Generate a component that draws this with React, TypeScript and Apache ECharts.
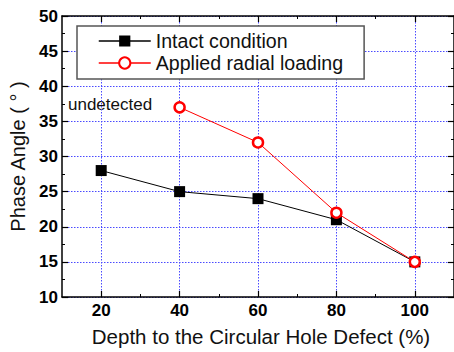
import React, { useEffect, useRef } from "react";
import * as echarts from "echarts";

const depthValues = [20, 40, 60, 80, 100];
const intactValues = [28, 25, 24, 21, 15];
const radialValues: (number | null)[] = [null, 37, 32, 22, 15];
const xMajorTicks = [20, 40, 60, 80, 100];
const xMinorTicks = [30, 50, 70, 90];
const seriesNames = ["Intact condition", "Applied radial loading"];
const annotationText = "undetected";
const xTitle = "Depth to the Circular Hole Defect (%)";
const yTitle = "Phase Angle ( \u00b0 )";

const FONT = "'Liberation Sans', Arial, Helvetica, sans-serif";
const GRID_BLUE = "#4a4aff";

export default function App() {
  const ref = useRef<HTMLDivElement>(null);
  useEffect(() => {
    if (!ref.current) return;
    const chart = echarts.init(ref.current, undefined, { renderer: "svg" });
    const intactData = depthValues.map((x, i) => [x, intactValues[i]]);
    const radialData = depthValues
      .map((x, i) => [x, radialValues[i]])
      .filter((d) => d[1] !== null);

    const baseX = {
      type: "value",
      min: 10,
      max: 110,
      interval: 10,
      gridIndex: 0,
    };
    const baseY = {
      type: "value",
      min: 10,
      max: 50,
      interval: 5,
      gridIndex: 0,
    };
    const axisLine = { show: true, onZero: false, lineStyle: { color: "#000", width: 1.5 } };
    const gridLine = { show: true, lineStyle: { color: GRID_BLUE, type: [1.5, 1.5], width: 1 } };

    chart.setOption({
      animation: false,
      backgroundColor: "#fff",
      grid: { left: 62, top: 16, width: 394, height: 283, containLabel: false },
      legend: {
        orient: "vertical",
        left: 77,
        top: 26,
        padding: [5, 21, 6, 21],
        itemGap: 2,
        itemWidth: 52,
        itemHeight: 14,
        backgroundColor: "#fff",
        borderColor: "#555",
        borderWidth: 1.5,
        borderRadius: 0,
        data: seriesNames,
        lineStyle: { width: 1.5 },
        textStyle: { fontSize: 19.6, fontFamily: FONT, color: "#111", lineHeight: 20 },
      },
      xAxis: [
        {
          ...baseX,
          position: "bottom",
          axisLine,
          axisTick: { show: true, inside: true, length: 6, customValues: xMajorTicks, lineStyle: { color: "#000", width: 1.2 } },
          axisLabel: {
            show: true,
            customValues: xMajorTicks,
            margin: 5,
            fontSize: 17,
            fontWeight: "bold",
            fontFamily: FONT,
            color: "#000",
          },
          splitLine: gridLine,
          name: xTitle,
          nameLocation: "middle",
          nameGap: 29,
          nameTextStyle: { fontSize: 20.5, fontFamily: FONT, color: "#111", padding: [0, 0, 0, 6] },
        },
        {
          ...baseX,
          position: "bottom",
          axisLine: { show: false },
          axisTick: { show: true, inside: true, length: 3, customValues: xMinorTicks, lineStyle: { color: "#000", width: 1 } },
          axisLabel: { show: false },
          splitLine: { show: false },
        },
        {
          ...baseX,
          position: "top",
          axisLine,
          axisTick: { show: true, inside: true, length: 6, customValues: xMajorTicks, lineStyle: { color: "#000", width: 1.2 } },
          axisLabel: { show: false },
          splitLine: { show: false },
        },
        {
          ...baseX,
          position: "top",
          axisLine: { show: false },
          axisTick: { show: true, inside: true, length: 3, customValues: xMinorTicks, lineStyle: { color: "#000", width: 1 } },
          axisLabel: { show: false },
          splitLine: { show: false },
        },
      ],
      yAxis: [
        {
          ...baseY,
          position: "left",
          axisLine,
          axisTick: { show: true, inside: true, length: 6, lineStyle: { color: "#000", width: 1.2 } },
          minorTick: { show: true, splitNumber: 2, length: 3, lineStyle: { color: "#000", width: 1 } },
          axisLabel: {
            margin: 4,
            fontSize: 17,
            fontWeight: "bold",
            fontFamily: FONT,
            color: "#000",
          },
          splitLine: gridLine,
          name: yTitle,
          nameLocation: "middle",
          nameGap: 32,
          nameTextStyle: { fontSize: 20, fontFamily: FONT, color: "#111" },
        },
        {
          ...baseY,
          position: "right",
          axisLine,
          axisTick: { show: true, inside: true, length: 6, lineStyle: { color: "#000", width: 1.2 } },
          minorTick: { show: true, splitNumber: 2, length: 3, lineStyle: { color: "#000", width: 1 } },
          axisLabel: { show: false },
          splitLine: { show: false },
        },
      ],
      graphic: [
        {
          type: "text",
          left: 68,
          top: 96,
          style: { text: annotationText, fontSize: 17, fontFamily: FONT, fill: "#111" },
        },
      ],
      series: [
        {
          name: seriesNames[0],
          type: "line",
          xAxisIndex: 0,
          yAxisIndex: 0,
          data: intactData,
          symbol: "rect",
          symbolSize: 11,
          itemStyle: { color: "#000" },
          lineStyle: { color: "#000", width: 1 },
          z: 3,
        },
        {
          name: seriesNames[1],
          type: "line",
          xAxisIndex: 0,
          yAxisIndex: 0,
          data: radialData,
          symbol: "circle",
          symbolSize: 10,
          itemStyle: { color: "#fff", borderColor: "#ff0000", borderWidth: 2.5 },
          lineStyle: { color: "#ff0000", width: 1 },
          z: 4,
        },
      ],
    });
    return () => chart.dispose();
  }, []);
  return (
    <div
      ref={ref}
      style={{ position: "fixed", left: 0, top: 0, width: 454, height: 352 }}
    />
  );
}
